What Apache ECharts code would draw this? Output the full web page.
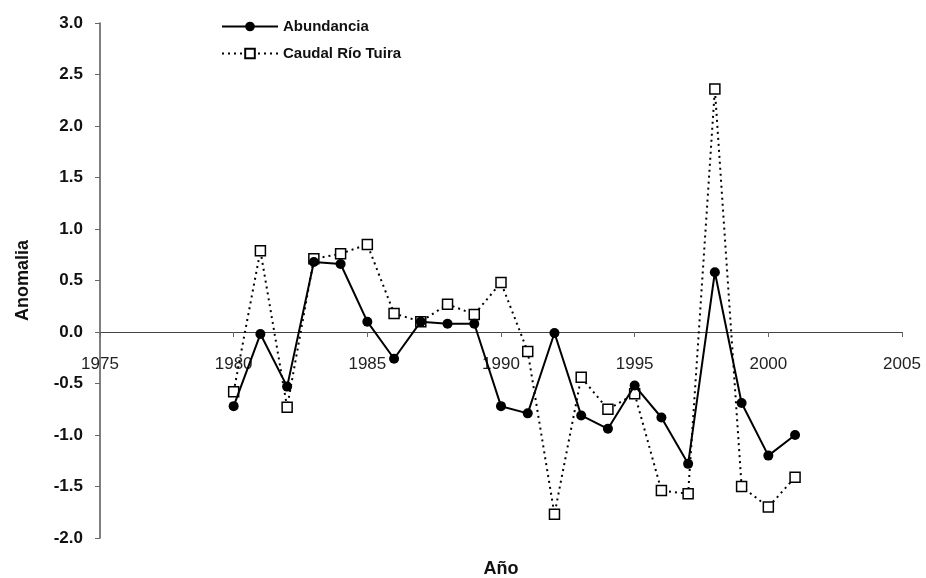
<!DOCTYPE html>
<html>
<head>
<meta charset="utf-8">
<script src="https://cdn.jsdelivr.net/npm/echarts@6/dist/echarts.min.js"></script>
<style>
	html, body { margin: 0; padding: 0; background: #fff; }
	#main { width: 926px; height: 578px; }
</style>
</head>
<body>
<div id="main"></div>
<script>
var years = [1980, 1981, 1982, 1983, 1984, 1985, 1986, 1987, 1988, 1989, 1990,
	1991, 1992, 1993, 1994, 1995, 1996, 1997, 1998, 1999, 2000, 2001];
var abundancia = [-0.72, -0.02, -0.53, 0.68, 0.66, 0.10, -0.26, 0.10, 0.08, 0.08, -0.72,
	-0.79, -0.01, -0.81, -0.94, -0.52, -0.83, -1.28, 0.58, -0.69, -1.20, -1.00];
var caudal = [-0.58, 0.79, -0.73, 0.71, 0.76, 0.85, 0.18, 0.10, 0.27, 0.17, 0.48,
	-0.19, -1.77, -0.44, -0.75, -0.60, -1.54, -1.57, 2.36, -1.50, -1.70, -1.41];
var seriesNames = ['Abundancia', 'Caudal Río Tuira'];

function pairs(vals) {
	var out = [];
	for (var i = 0; i < years.length; i++) {
		out.push([years[i], vals[i]]);
	}
	return out;
}

var myChart = echarts.init(document.getElementById('main'));
var option = {
	backgroundColor: '#fff',
	animation: false,
	grid: {
		left: 100,
		right: 24,
		top: 23,
		bottom: 40,
		outerBoundsMode: 'none'
	},
	legend: {
		orient: 'vertical',
		left: 216,
		top: 14,
		itemWidth: 56,
		itemHeight: 12,
		itemGap: 12,
		textStyle: {
			fontFamily: 'Liberation Sans',
			fontWeight: 'bold',
			fontSize: 15,
			color: '#111'
		},
		data: seriesNames
	},
	xAxis: {
		type: 'value',
		min: 1975,
		max: 2005,
		interval: 5,
		// the axis sits on y = 0: (3 - 0) of a 5-unit span inside the grid
		offset: -206,
		name: 'Año',
		nameLocation: 'middle',
		nameGap: 228,
		nameTextStyle: {
			fontFamily: 'Liberation Sans',
			fontWeight: 'bold',
			fontSize: 18,
			color: '#111'
		},
		axisLine: {
			onZero: false,
			lineStyle: { color: '#444', width: 1 }
		},
		axisTick: {
			show: true,
			length: 5,
			lineStyle: { color: '#666' }
		},
		axisLabel: {
			margin: 24,
			fontFamily: 'Liberation Sans',
			fontSize: 17,
			color: '#222',
			formatter: function(v) {
				return String(v);
			}
		},
		splitLine: { show: false }
	},
	yAxis: {
		type: 'value',
		min: -2,
		max: 3,
		interval: 0.5,
		name: 'Anomalia',
		nameLocation: 'middle',
		nameGap: 68,
		nameTextStyle: {
			fontFamily: 'Liberation Sans',
			fontWeight: 'bold',
			fontSize: 18,
			color: '#111'
		},
		axisLine: {
			show: true,
			onZero: false,
			lineStyle: { color: '#555', width: 1.5 }
		},
		axisTick: {
			show: true,
			length: 5,
			lineStyle: { color: '#666' }
		},
		axisLabel: {
			margin: 17,
			fontFamily: 'Liberation Sans',
			fontWeight: 'bold',
			fontSize: 17,
			color: '#111',
			formatter: function(v) {
				return v.toFixed(1);
			}
		},
		splitLine: { show: false }
	},
	series: [{
		name: seriesNames[0],
		type: 'line',
		data: pairs(abundancia),
		symbol: 'circle',
		symbolSize: 10,
		itemStyle: { color: '#000' },
		lineStyle: { color: '#000', width: 2 },
		z: 3
	}, {
		name: seriesNames[1],
		type: 'line',
		data: pairs(caudal),
		symbol: 'rect',
		symbolSize: 10,
		itemStyle: { color: '#fff', borderColor: '#000', borderWidth: 1.5 },
		lineStyle: { color: '#000', width: 2, type: [2, 4] },
		z: 2
	}]
};
myChart.setOption(option);
</script>
</body>
</html>
